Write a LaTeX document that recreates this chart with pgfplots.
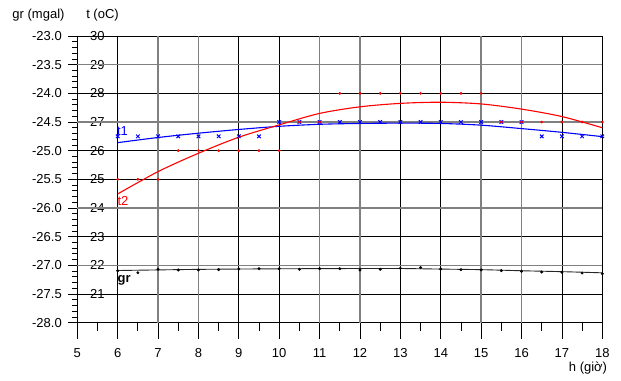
\documentclass[border=0pt]{standalone}
\usepackage{fontspec}
\setmainfont{Liberation Sans}
\usepackage{pgfplots}
\pgfplotsset{compat=1.18}
\definecolor{gline}{RGB}{128,128,128}
\definecolor{tblue}{RGB}{0,0,255}
\definecolor{tred}{RGB}{255,0,0}
\begin{document}
\begin{tikzpicture}[font=\fontsize{13bp}{15bp}\selectfont]
\pgfplotsset{base/.style={scale only axis, width=525bp, height=286.7bp,
  at={(0,0)}, anchor=south west, xmin=5, xmax=18, clip=false,
  /pgf/number format/assume math mode=true,
  tick label style={font=\fontsize{13bp}{15bp}\selectfont}}}
% ---- axis 1: gr scale, frame, y ticks, black grid
\begin{axis}[base, ymin=-28, ymax=-23,
  axis lines=left, axis line style={-, line width=1bp},
  xtick=\empty,
  ytick={-28,-27.5,...,-23}, minor y tick num=4,
  tick align=outside, major tick length=9bp, minor tick length=5bp,
  tick style={black, line width=0.8bp},
  yticklabel style={/pgf/number format/fixed, /pgf/number format/fixed zerofill,
    /pgf/number format/precision=1, /pgf/number format/assume math mode=true,
    anchor=east, inner sep=0pt, xshift=-6.3bp},
  extra y ticks={-27.5,-26.5,-25.5,-25,-24,-23}, extra y tick labels={},
  extra y tick style={grid=major, major grid style={black, line width=0.8bp}},
  extra x ticks={6,9,10,13,14,17,18}, extra x tick labels={},
  extra x tick style={grid=major, major grid style={black, line width=0.8bp}},
]
\end{axis}
% ---- axis 2: t scale, x ticks, gray grid, t1 and t2
\begin{axis}[base, ymin=20, ymax=30,
  axis lines=left, axis line style={draw=none},
  xtick={5,...,18}, minor x tick num=1,
  tick align=outside, major tick length=16bp, minor tick length=8bp,
  x tick style={black, line width=0.8bp},
  ytick={21,...,30}, y tick style={draw=none},
  yticklabel style={anchor=west, inner sep=0pt, xshift=28.7bp},
  xticklabel style={anchor=north, inner sep=0pt, yshift=-9.3bp},
  extra x ticks={7,8,11,12,15,16}, extra x tick labels={},
  extra x tick style={grid=major, major grid style={gline, line width=1.4bp}},
  extra y ticks={22,24,27,29}, extra y tick labels={},
  extra y tick style={grid=major, major grid style={gline, line width=1.4bp}},
]
% t1 measured
\addplot[only marks, mark=x, mark size=2.5bp, tblue, line width=1bp] coordinates {
(6,26.5)(6.5,26.5)(7,26.5)(7.5,26.5)(8,26.5)(8.5,26.5)(9,26.5)(9.5,26.5)
(10,27)(10.5,27)(11,27)(11.5,27)(12,27)(12.5,27)(13,27)(13.5,27)(14,27)(14.5,27)(15,27)(15.5,27)(16,27)
(16.5,26.5)(17,26.5)(17.5,26.5)(18,26.5)};
% t1 trend
\addplot[tblue, line width=1.1bp, smooth, no marks] coordinates {
(6,26.28)(7,26.46)(8,26.61)(9,26.74)(10,26.85)(11,26.92)(12,26.95)(13,26.96)(14,26.95)(15,26.89)(16,26.77)(17,26.64)(18,26.49)};
% t2 measured
\addplot[only marks, mark=*, mark size=1.2bp, tred] coordinates {
(6,25)(6.5,25)(7,25)(7.5,26)(8,26)(8.5,26)(9,26)(9.5,26)(10,26)(10.5,27)(11,27)
(11.5,28)(12,28)(12.5,28)(13,28)(13.5,28)(14,28)(14.5,28)(15,28)
(15.5,27)(16,27)(16.5,27)(17,27)(17.5,27)(18,27)};
% t2 trend
\addplot[tred, line width=1.1bp, smooth, no marks] coordinates {
(6,24.49)(7,25.27)(8,25.91)(9,26.47)(10,26.9)(11,27.3)(12,27.53)(13,27.65)(14,27.69)(15,27.63)(16,27.45)(17,27.19)(18,26.8)};
\node[tblue] at (axis cs:6.12,26.69) {t1};
\node[tred] at (axis cs:6.13,24.25) {t2};
\end{axis}
% ---- axis 3: gr data
\begin{axis}[base, ymin=-28, ymax=-23, hide axis]
\addplot[only marks, mark=*, mark size=1.3bp, black] coordinates {
(6,-27.094)(6.5,-27.129)(7,-27.068)(7.5,-27.08)(8,-27.08)(8.5,-27.075)(9,-27.063)(9.5,-27.058)
(10,-27.058)(10.5,-27.068)(11,-27.058)(11.5,-27.058)(12,-27.08)(12.5,-27.068)(13,-27.05)(13.5,-27.04)
(14,-27.063)(14.5,-27.075)(15,-27.08)(15.5,-27.092)(16,-27.103)(16.5,-27.115)(17,-27.12)(17.5,-27.133)(18,-27.145)};
\addplot[black!85, line width=0.9bp, smooth, no marks] coordinates {
(6,-27.09)(8,-27.07)(10,-27.06)(12,-27.055)(13,-27.055)(14,-27.065)(15,-27.075)(16,-27.094)(17,-27.11)(18,-27.13)};
\node[font=\fontsize{13bp}{15bp}\selectfont\bfseries] at (axis cs:6.16,-27.255) {gr};
\end{axis}
\node at (-38.8bp,307.7bp) {gr (mgal)};
\node at (25.2bp,307.7bp) {t (oC)};
\node at (510.7bp,-45bp) {h (giờ)};
\pgfresetboundingbox
\path[use as bounding box] (-77.3bp,-58.3bp) rectangle (543.7bp,322.7bp);
\end{tikzpicture}
\end{document}
